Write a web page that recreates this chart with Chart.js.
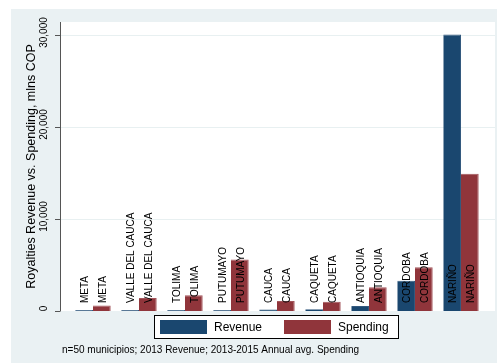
<!DOCTYPE html>
<html>
<head>
<meta charset="utf-8">
<script src="https://cdn.jsdelivr.net/npm/chart.js@4"></script>
<style>
  html, body { margin: 0; padding: 0; background: #ffffff; }
  #wrap { width: 497px; height: 363px; }
</style>
</head>
<body>
<div id="wrap"><canvas id="chart_royalties"></canvas></div>
<script>
// data
var categories = ['META', 'VALLE DEL CAUCA', 'TOLIMA', 'PUTUMAYO', 'CAUCA', 'CAQUETA', 'ANTIOQUIA', 'CORDOBA', 'NARIÑO'];
var revenue = [100, 100, 100, 100, 150, 200, 540, 3290, 30000];
var spending = [590, 1420, 1710, 5600, 1090, 1010, 2570, 4750, 14900];
var yTicks = [0, 10000, 20000, 30000];
var yTickLabels = ['0', '10,000', '20,000', '30,000'];
var yTitle = 'Royalties Revenue vs. Spending, mlns COP';
var footnote = 'n=50 municipios; 2013 Revenue; 2013-2015 Annual avg. Spending';

var FONT = '"Liberation Sans", Arial, Helvetica, sans-serif';
var BLUE = '#1a476f';
var RED = '#90353b';
var OUTER_BG = '#eaf1f3';

var stataLook = {
    id: 'stataLook',
    beforeDraw: (chart) => {
        const ctx = chart.ctx;
        const y = chart.scales.y;
        const area = chart.chartArea;
        const left = 60, right = 495;
        ctx.save();
        ctx.fillStyle = '#ffffff';
        ctx.fillRect(0, 0, chart.width, chart.height);
        ctx.fillStyle = OUTER_BG;
        ctx.fillRect(11, 9, chart.width - 11, chart.height - 9);
        ctx.fillStyle = '#ffffff';
        ctx.fillRect(left, area.top, right - left, area.bottom - area.top);

        // grid lines
        ctx.strokeStyle = '#e8f0f1';
        ctx.lineWidth = 1;
        yTicks.forEach(function(v) {
            if (v === 0) return;
            const py = Math.round(y.getPixelForValue(v)) + 0.5;
            ctx.beginPath();
            ctx.moveTo(left, py);
            ctx.lineTo(right, py);
            ctx.stroke();
        });

        // axis line and ticks
        ctx.strokeStyle = '#555555';
        ctx.beginPath();
        ctx.moveTo(left + 0.5, area.top);
        ctx.lineTo(left + 0.5, y.getPixelForValue(0) + 0.5);
        ctx.stroke();
        ctx.fillStyle = '#000000';
        ctx.font = '10px ' + FONT;
        ctx.textAlign = 'center';
        ctx.textBaseline = 'middle';
        yTicks.forEach(function(v, i) {
            const py = Math.round(y.getPixelForValue(v)) + 0.5;
            ctx.beginPath();
            ctx.moveTo(left - 5, py);
            ctx.lineTo(left, py);
            ctx.stroke();
            ctx.save();
            ctx.translate(44, py - 3);
            ctx.rotate(-Math.PI / 2);
            ctx.fillText(yTickLabels[i], 0, 0);
            ctx.restore();
        });

        // axis title
        ctx.save();
        ctx.font = '12.5px ' + FONT;
        ctx.translate(32, (area.top + area.bottom) / 2);
        ctx.rotate(-Math.PI / 2);
        ctx.fillText(yTitle, 0, 0);
        ctx.restore();
        ctx.restore();
    },
    afterDatasetsDraw: (chart) => {
        const ctx = chart.ctx;
        const base = chart.scales.y.getPixelForValue(0);
        ctx.save();
        ctx.fillStyle = '#000000';
        ctx.font = '10px ' + FONT;
        ctx.textAlign = 'left';
        ctx.textBaseline = 'middle';
        chart.data.datasets.forEach(function(ds, di) {
            chart.getDatasetMeta(di).data.forEach(function(bar, i) {
                ctx.save();
                ctx.translate(bar.x + 1, base - 8);
                ctx.rotate(-Math.PI / 2);
                ctx.fillText(categories[i], 0, 0);
                ctx.restore();
            });
        });

        // legend box
        ctx.strokeStyle = '#000000';
        ctx.lineWidth = 1;
        ctx.fillStyle = '#ffffff';
        ctx.fillRect(154.5, 315.5, 244, 23);
        ctx.strokeRect(154.5, 315.5, 244, 23);
        ctx.font = '12px ' + FONT;
        ctx.textBaseline = 'middle';
        const items = [{x: 160, ds: chart.data.datasets[0]}, {x: 284, ds: chart.data.datasets[1]}];
        items.forEach(function(it) {
            ctx.fillStyle = it.ds.backgroundColor;
            ctx.fillRect(it.x, 320, 47, 14);
            ctx.fillStyle = '#000000';
            ctx.fillText(it.ds.label, it.x + 54, 327.5);
        });

        // note
        ctx.font = '10px ' + FONT;
        ctx.fillText(footnote, 62, 350);
        ctx.restore();
    }
};

var chart_royalties = new Chart(document.getElementById('chart_royalties'), {
    type: 'bar',
    data: {
        labels: categories,
        datasets: [
            {
                label: 'Revenue',
                data: revenue,
                backgroundColor: BLUE,
                borderColor: '#33597e',
                borderWidth: {left: 0, right: 1, top: 1, bottom: 0}
            },
            {
                label: 'Spending',
                data: spending,
                backgroundColor: RED,
                borderColor: '#a2545a',
                borderWidth: {left: 0, right: 1, top: 1, bottom: 0}
            }
        ]
    },
    options: {
        animation: false,
        responsive: true,
        maintainAspectRatio: false,
        layout: {
            padding: {left: 70, right: 13, top: 22, bottom: 52}
        },
        datasets: {
            bar: {
                barPercentage: 1.0,
                categoryPercentage: 0.77
            }
        },
        plugins: {
            legend: { display: false },
            tooltip: { enabled: false }
        },
        scales: {
            x: {
                display: false
            },
            y: {
                display: false,
                min: 0,
                max: 31360
            }
        }
    },
    plugins: [stataLook]
});
</script>
</body>
</html>
